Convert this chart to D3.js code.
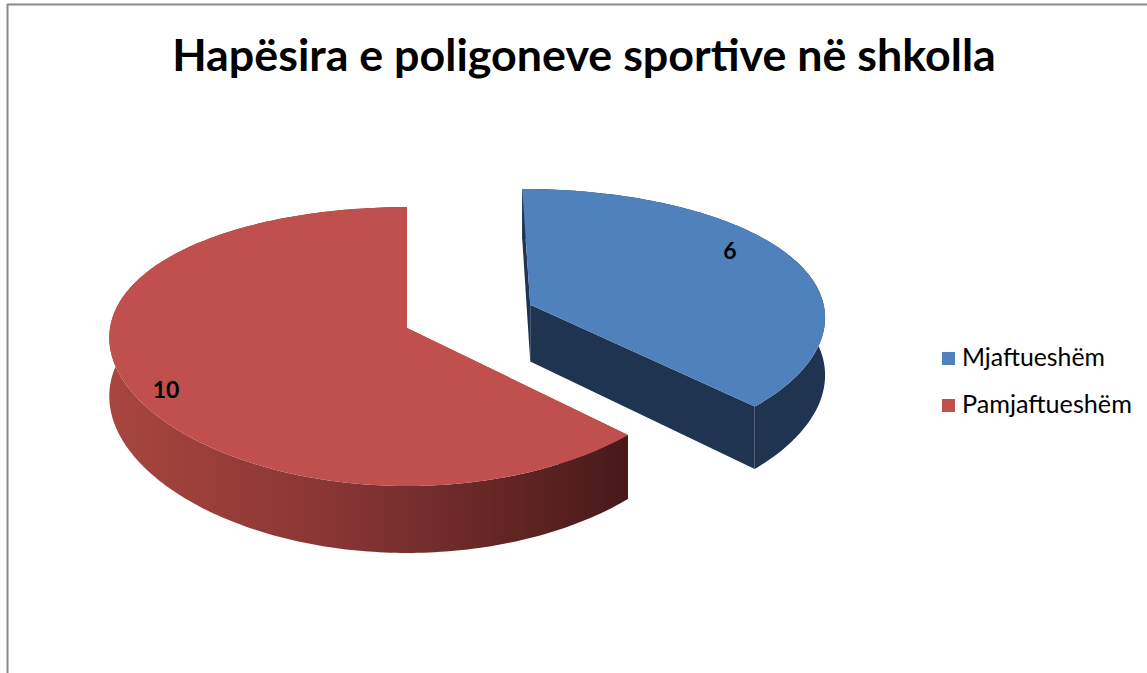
<!DOCTYPE html>
<html>
<head>
<meta charset="utf-8">
<script src="https://cdn.jsdelivr.net/npm/d3@7"></script>
<style>
  body { margin: 0; background: #fff; }
</style>
</head>
<body>
<div class="chart"></div>
<script>
// Chart data
const categories = ["Mjaftueshëm", "Pamjaftueshëm"];
const values = [6, 10];
const topColors = ["#4f81bd", "#c0504d"];
const sideColors = ["#1f3450", "#a5443f"];
const explode = [135, 0];

const width = 1147
const height = 673

const svg = d3.select(".chart")
    .append("svg")
    .attr("width", width)
    .attr("height", height)
    .style("font-family", "Lato, 'Open Sans', sans-serif");

// frame (only top + left edges are visible in the picture)
svg.append("line").attr("x1", 7).attr("x2", width).attr("y1", 4.5).attr("y2", 4.5)
    .attr("stroke", "#898989").attr("stroke-width", 2);
svg.append("line").attr("x1", 7.5).attr("x2", 7.5).attr("y1", 4).attr("y2", height)
    .attr("stroke", "#898989").attr("stroke-width", 2);

// helper to make a text fit a given pixel width
function fitWidth(sel, w) {
    const len = sel.node().getComputedTextLength();
    const fs = parseFloat(sel.style("font-size"));
    sel.style("font-size", (fs * w / len) + "px");
}

// Title
const title = svg.append("text")
    .attr("x", 584)
    .attr("y", 71)
    .attr("text-anchor", "middle")
    .style("font-size", "40px")
    .style("font-weight", "bold")
    .attr("fill", "#000")
    .text("Hapësira e poligoneve sportive në shkolla");
fitWidth(title, 824);

// 3D pie projection (tilted disc with a bit of perspective)
const R = 297, A = 137, B = 0.133, BX = 0.07, H = 58, CX = 407, CY = 328;
function proj(u, v, z) {
    const s = 1 / (1 - B * v / R);
    const sx = 1 / (1 - BX * v / R);
    return [CX + u * sx, CY + (A * v / R + z) * s];
}
function pt(a, r, off, z) {
    const u = r * Math.sin(a) + off[0];
    const v = -r * Math.cos(a) + off[1];
    return proj(u, v, z);
}
function arcPts(a0, a1, off, z) {
    const n = Math.max(2, Math.ceil(Math.abs(a1 - a0) / (Math.PI / 180)));
    return d3.range(n + 1).map(i => pt(a0 + (a1 - a0) * i / n, R, off, z));
}

const pie = d3.pie().sort(null).value(d => d);
const arcs = pie(values).map((d, i) => {
    const mid = (d.startAngle + d.endAngle) / 2;
    const off = [explode[i] * Math.sin(mid), -explode[i] * Math.cos(mid)];
    return { ...d, i, off };
});

const line = d3.line();

// gradient for the red outer wall
const defs = svg.append("defs");
const grad = defs.append("linearGradient")
    .attr("id", "redSide")
    .attr("gradientUnits", "userSpaceOnUse")
    .attr("x1", 107).attr("x2", 625).attr("y1", 0).attr("y2", 0);
grad.append("stop").attr("offset", "0%").attr("stop-color", "#a8463f");
grad.append("stop").attr("offset", "45%").attr("stop-color", "#873533");
grad.append("stop").attr("offset", "100%").attr("stop-color", "#481a1a");

const pieG = svg.append("g");

arcs.forEach(d => {
    const g = pieG.append("g");
    const sideFill = d.i === 1 ? "url(#redSide)" : sideColors[d.i];
    const c0 = pt(0, 0, d.off, 0), c1 = pt(0, 0, d.off, H);

    // cut faces
    [d.startAngle, d.endAngle].forEach(a => {
        const p0 = pt(a, R, d.off, 0), p1 = pt(a, R, d.off, H);
        g.append("path")
            .attr("d", line([c0, p0, p1, c1]) + "Z")
            .attr("fill", d.i === 1 ? "#a5443f" : sideColors[d.i]);
    });

    // outer wall
    const topArc = arcPts(d.startAngle, d.endAngle, d.off, 0);
    const botArc = arcPts(d.startAngle, d.endAngle, d.off, H).reverse();
    g.append("path")
        .attr("d", line(topArc.concat(botArc)) + "Z")
        .attr("fill", sideFill);

    // top face
    g.append("path")
        .attr("d", line([c0].concat(topArc)) + "Z")
        .attr("fill", topColors[d.i]);
});

// value labels
const labelPos = [[730, 259], [166, 398]];
arcs.forEach((d, i) => {
    svg.append("text")
        .attr("x", labelPos[i][0])
        .attr("y", labelPos[i][1])
        .attr("text-anchor", "middle")
        .style("font-size", "23px")
        .style("font-weight", "bold")
        .text(d.data);
});

// legend
const legend = svg.append("g")
    .attr("transform", "translate(942, 352)");
legend.selectAll("rect")
    .data(categories)
    .join("rect")
    .attr("x", 0)
    .attr("y", (d, i) => i * 47)
    .attr("width", 13)
    .attr("height", 13)
    .attr("fill", (d, i) => topColors[i]);
legend.selectAll("text")
    .data(categories)
    .join("text")
    .attr("x", 20)
    .attr("y", (d, i) => i * 47 + 14)
    .style("font-size", "22px")
    .attr("fill", "#000")
    .text(d => d)
    .each(function (d, i) { fitWidth(d3.select(this), i === 0 ? 143 : 170); });
</script>
</body>
</html>
